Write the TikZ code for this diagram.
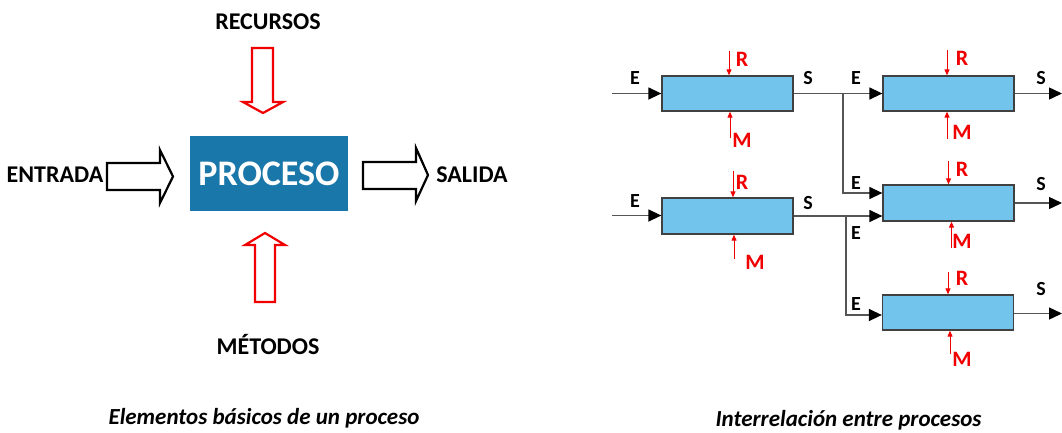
\documentclass[tikz,border=0pt]{standalone}
\usepackage{fontspec}
\setmainfont{Carlito}
\usetikzlibrary{arrows.meta}
\definecolor{procblue}{HTML}{1A77A9}
\definecolor{boxblue}{HTML}{72C4EC}
\definecolor{linegray}{HTML}{555555}
\definecolor{boxedge}{HTML}{404040}
\definecolor{myred}{HTML}{F00000}
\tikzset{
  lbl/.style={inner sep=0pt, font=\bfseries\fontsize{24}{24}\selectfont, anchor=base},
  captxt/.style={inner sep=0pt, font=\bfseries\itshape\fontsize{23}{23}\selectfont, anchor=base},
  pbox/.style={draw=boxedge, line width=1.3pt, fill=boxblue, minimum width=131pt, inner sep=0pt},
  conn/.style={draw=linegray, line width=1.4pt, -{Triangle[length=13pt,width=12pt,fill=black,color=black]}},
  rm/.style={draw=myred, line width=1pt, -{Triangle[length=6pt,width=5pt]}},
  slbl/.style={inner sep=0pt, font=\bfseries\fontsize{20}{20}\selectfont},
  rlbl/.style={inner sep=0pt, text=myred, font=\bfseries\fontsize{22}{22}\selectfont},
  blockblack/.style={draw=black, line width=2.2pt, line join=miter, fill=white},
  blockred/.style={draw=myred, line width=2.2pt, line join=miter, fill=white}
}
\begin{document}
\begin{tikzpicture}[x=1pt,y=-1pt]
\useasboundingbox (0,0) rectangle (1062,432);
% ---------------- left diagram ----------------
\node[lbl] (recursos) at (268,29) {RECURSOS};
\node[lbl] (metodos) at (268,354) {MÉTODOS};
\node[lbl] (entrada) at (55,182) {ENTRADA};
\node[lbl] (salida) at (472,182) {SALIDA};
\node[fill=procblue, minimum width=158pt, minimum height=75pt, inner sep=0pt,
      text=white, font=\bfseries\fontsize{36}{36}\selectfont] (proceso) at (269,173.5) {PROCESO};
% block arrows
\draw[blockblack] (107,163) -- (160,163) -- (160,150) -- (173,176.5) -- (160,203) -- (160,190) -- (107,190) -- cycle;
\draw[blockblack] (363,162) -- (416,162) -- (416,148) -- (428,175) -- (416,201) -- (416,189) -- (363,189) -- cycle;
\draw[blockred] (252,48) -- (273,48) -- (273,102) -- (283,102) -- (263,113) -- (243,102) -- (252,102) -- cycle;
\draw[blockred] (255,302) -- (275,302) -- (275,245) -- (285,245) -- (265,233) -- (245,245) -- (255,245) -- cycle;
\node[captxt] (cap1) at (264,424) {Elementos básicos de un proceso};
% ---------------- right diagram ----------------
\node[pbox, minimum height=35pt] (b1) at (727.5,93.5) {};
\node[pbox, minimum height=35pt] (b2) at (948.5,93.5) {};
\node[pbox, minimum height=36pt] (b3) at (948.5,203) {};
\node[pbox, minimum height=36pt] (b4) at (727.5,216) {};
\node[pbox, minimum height=35pt] (b5) at (948,312.5) {};
\coordinate (in1) at (612,93.5);
\coordinate (in4) at (612,215.5);
\coordinate (j1) at (843,93.5);
\coordinate (j2) at (846,216);
\coordinate (o2) at (1062,93.5);
\coordinate (o3) at (1062,203);
\coordinate (o5) at (1062,313.5);
\draw[conn] (in1) -- (b1.west);
\draw[conn] (b1.east) -- (b2.west);
\draw[conn] (j1) |- ([yshift=10pt]b3.west);
\draw[conn] (in4) -- (b4.west |- in4);
\draw[conn] (b4.east) -- (b4.east -| b3.west);
\draw[conn] (j2) |- ([yshift=-2.5pt]b5.west);
\draw[conn] (b2.east) -- (o2);
\draw[conn] (b3.east) -- (o3);
\draw[conn] (b5.east |- o5) -- (o5);
% red R / M arrows
\draw[rm] ([xshift=1.5pt,yshift=24pt]b1.north) -- ([xshift=1.5pt]b1.north);
\draw[rm] ([xshift=2.5pt,yshift=-26pt]b1.south) -- ([xshift=2.5pt]b1.south);
\draw[rm] ([xshift=-1.5pt,yshift=25pt]b2.north) -- ([xshift=-1.5pt]b2.north);
\draw[rm] ([xshift=-1.5pt,yshift=-27pt]b2.south) -- ([xshift=-1.5pt]b2.south);
\draw[rm] ([xshift=0pt,yshift=23pt]b3.north) -- ([xshift=0pt]b3.north);
\draw[rm] ([xshift=3pt,yshift=-26pt]b3.south) -- ([xshift=3pt]b3.south);
\draw[rm] ([xshift=5.5pt,yshift=26pt]b4.north) -- ([xshift=5.5pt]b4.north);
\draw[rm] ([xshift=6.5pt,yshift=-24pt]b4.south) -- ([xshift=6.5pt]b4.south);
\draw[rm] ([xshift=0pt,yshift=22pt]b5.north) -- ([xshift=0pt]b5.north);
\draw[rm] ([xshift=2pt,yshift=-23pt]b5.south) -- ([xshift=2pt]b5.south);
% labels
\node[slbl] (e1) at (635,78) {E};
\node[slbl] (s1) at (808,78) {S};
\node[slbl] (e2) at (856,78) {E};
\node[slbl] (s2) at (1041,78) {S};
\node[slbl] (e3a) at (856,183.5) {E};
\node[slbl] (e3b) at (856,233.5) {E};
\node[slbl] (s3) at (1041,184) {S};
\node[slbl] (e4) at (635,201) {E};
\node[slbl] (s4) at (808,203) {S};
\node[slbl] (e5) at (856,304.5) {E};
\node[slbl] (s5) at (1041,289) {S};
\node[rlbl] (r1) at (742,59) {R};
\node[rlbl] (m1) at (742,140) {M};
\node[rlbl] (r2) at (962,58) {R};
\node[rlbl] (m2) at (962,132) {M};
\node[rlbl] (r3) at (962,169) {R};
\node[rlbl] (m3) at (962,241.5) {M};
\node[rlbl] (r4) at (742,182.5) {R};
\node[rlbl] (m4) at (755,262) {M};
\node[rlbl] (r5) at (962,278) {R};
\node[rlbl] (m5) at (962,359) {M};
\node[captxt] (cap2) at (848.5,426) {Interrelación entre procesos};
\end{tikzpicture}
\end{document}
